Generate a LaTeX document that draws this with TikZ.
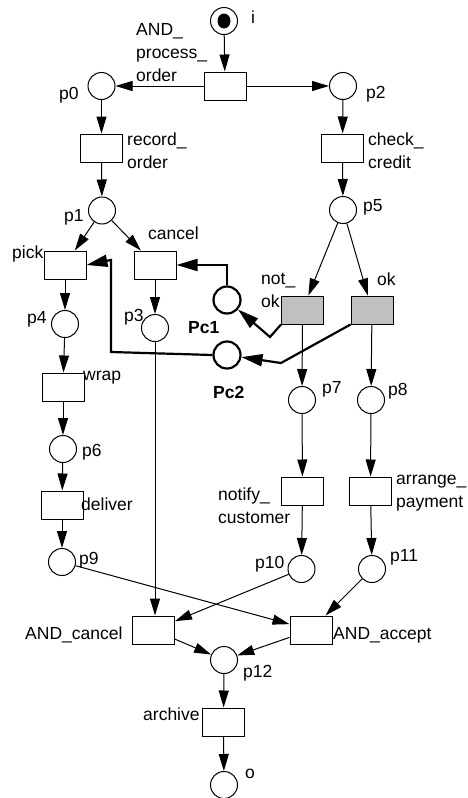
\documentclass[tikz,border=0pt]{standalone}
\usepackage{fontspec}
\setmainfont{Liberation Sans}
\usetikzlibrary{arrows.meta}
\definecolor{tgray}{RGB}{192,192,192}
\newcommand\mlines[1]{\vbox{\baselineskip=23pt\lineskiplimit=-100pt #1}}
\begin{document}
\begin{tikzpicture}[x=1pt,y=-1pt,
  place/.style={circle,draw,line width=1pt,minimum size=27pt,inner sep=0pt},
  trans/.style={rectangle,draw,line width=1pt,minimum width=42pt,minimum height=28pt,inner sep=0pt},
  gtrans/.style={trans,fill=tgray},
  cplace/.style={place,line width=2.2pt},
  arc/.style={-{Triangle[length=17pt,width=10pt]},line width=1pt},
  carc/.style={-{Triangle[length=21pt,width=12pt]},line width=2.2pt},
  lbl/.style={inner sep=0pt,anchor=base west,font=\fontsize{17.5}{21}\selectfont},
  blbl/.style={lbl,font=\fontsize{17.5}{21}\selectfont\bfseries},
]
\useasboundingbox (0,0) rectangle (467,798);
% places and transitions
\node[place] (i) at (224,21) {};
\fill (i.center) ellipse (6.5 and 7.5);
\node[trans] (andpo) at (225,86) {};
\node[place] (p0) at (101.5,86) {};
\node[place] (p2) at (343,86) {};
\node[trans] (rec) at (101.5,148) {};
\node[trans] (chk) at (342.5,148) {};
\node[place] (p1) at (102,210.5) {};
\node[place] (p5) at (343,210) {};
\node[trans] (pick) at (65,265) {};
\node[trans] (cancel) at (155,265) {};
\node[cplace] (pc1) at (227,300) {};
\node[gtrans] (notok) at (302.5,310) {};
\node[gtrans] (ok) at (372,310) {};
\node[place] (p4) at (65,324) {};
\node[place] (p3) at (155,328) {};
\node[cplace] (pc2) at (227,355) {};
\node[trans] (wrap) at (63,387) {};
\node[place] (p7) at (302,400) {};
\node[place] (p8) at (371,400) {};
\node[place] (p6) at (63,449) {};
\node[trans] (deliver) at (62,505) {};
\node[trans] (notify) at (302.5,491) {};
\node[trans] (arrange) at (370.5,491) {};
\node[place] (p9) at (62,562) {};
\node[place] (p10) at (301.5,569) {};
\node[place] (p11) at (372,569) {};
\node[trans] (andc) at (153.5,630) {};
\node[trans] (anda) at (311,630) {};
\node[place] (p12) at (224,660) {};
\node[trans] (archive) at (223.5,722) {};
\node[place] (o) at (224,785) {};
% helper coordinates for the bold arcs
\coordinate (k1) at (270,337);
\coordinate (k2) at (281,363);
\coordinate (k3) at (111,352);
\coordinate (k4) at (111,260);
% arcs
\draw[arc] (i) -- (andpo);
\draw[arc] (andpo) -- (p0);
\draw[arc] (andpo) -- (p2);
\draw[arc] (p0) -- (rec);
\draw[arc] (rec) -- (p1);
\draw[arc] (p2) -- (chk);
\draw[arc] (chk) -- (p5);
\draw[arc] (p1) -- (pick);
\draw[arc] (p1) -- (cancel);
\draw[arc] (p5) -- (notok);
\draw[arc] (p5) -- (ok);
\draw[arc] (pick) -- (p4);
\draw[arc] (p4) -- (wrap);
\draw[arc] (wrap) -- (p6);
\draw[arc] (p6) -- (deliver);
\draw[arc] (deliver) -- (p9);
\draw[arc] (cancel) -- (p3);
\draw[arc] (p3) -- (p3 |- andc.north);
\draw[arc] (notok) -- (p7);
\draw[arc] (ok) -- (p8);
\draw[arc] (p7) -- (notify);
\draw[arc] (notify) -- (p10);
\draw[arc] (p8) -- (arrange);
\draw[arc] (arrange) -- (p11);
\draw[arc] (p9) -- (anda);
\draw[arc] (p10) -- (andc);
\draw[arc] (p11) -- (anda);
\draw[arc] (andc) -- (p12);
\draw[arc] (anda) -- (p12);
\draw[arc] (p12) -- (archive);
\draw[arc] (archive) -- (o);
% bold arcs
\draw[carc] (notok.south west) -- (k1) -- (pc1);
\draw[carc] (pc1.north) |- (cancel.east);
\draw[carc] (ok.south west) -- (k2) -- (pc2);
\draw[carc] (pc2.west) -- (k3) -- (k4) -- (pick.east);
% labels
\node[lbl] (li) at (251,23) {i};
\node[lbl] (landpo) at (136,81) {\mlines{\hbox{AND\_}\hbox{process\_}\hbox{order}}};
\node[lbl] (lp0) at (59,99) {p0};
\node[lbl] (lp2) at (366,98) {p2};
\node[lbl] (lrec) at (127,168) {\mlines{\hbox{record\_}\hbox{order}}};
\node[lbl] (lchk) at (368,168) {\mlines{\hbox{check\_}\hbox{credit}}};
\node[lbl] (lp1) at (64,221) {p1};
\node[lbl] (lp5) at (363,211) {p5};
\node[lbl] (lcancel) at (148,239) {cancel};
\node[lbl] (lpick) at (12,258) {pick};
\node[lbl] (lnotok) at (261,307) {\mlines{\hbox{not\_}\hbox{ok}}};
\node[lbl] (lok) at (377,285) {ok};
\node[lbl] (lp4) at (27,323) {p4};
\node[lbl] (lp3) at (124,321) {p3};
\node[blbl] (lpc1) at (188,333) {Pc1};
\node[lbl] (lwrap) at (83,380) {wrap};
\node[blbl] (lpc2) at (213,398) {Pc2};
\node[lbl] (lp7) at (322,393) {p7};
\node[lbl] (lp8) at (388,395) {p8};
\node[lbl] (lp6) at (82,456) {p6};
\node[lbl] (ldeliver) at (81,510) {deliver};
\node[lbl] (lnotify) at (218,523) {\mlines{\hbox{notify\_}\hbox{customer}}};
\node[lbl] (larrange) at (396,507) {\mlines{\hbox{arrange\_}\hbox{payment}}};
\node[lbl] (lp9) at (79,564) {p9};
\node[lbl] (lp10) at (255,568) {p10};
\node[lbl] (lp11) at (390,561) {p11};
\node[lbl] (landc) at (25,639) {AND\_cancel};
\node[lbl] (landa) at (333,639) {AND\_accept};
\node[lbl] (lp12) at (243,677) {p12};
\node[lbl] (larchive) at (143,720) {archive};
\node[lbl] (lo) at (245,778) {o};
\end{tikzpicture}
\end{document}
